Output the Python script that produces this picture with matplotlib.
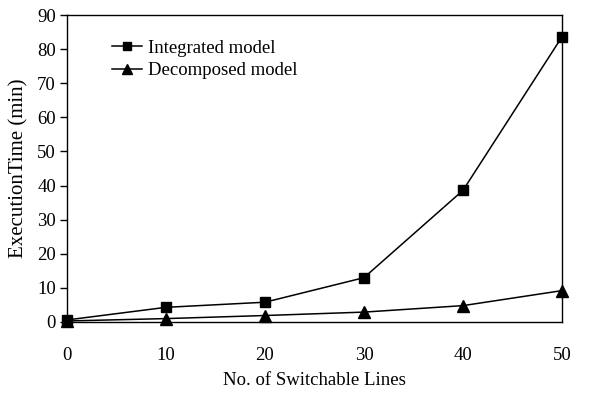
import matplotlib.pyplot as plt

plt.rcParams['font.family'] = ['Liberation Serif', 'DejaVu Serif']

# data
lines = [0, 10, 20, 30, 40, 50]
integrated = [0.6, 4.3, 5.8, 13.0, 38.6, 83.6]
decomposed = [0.3, 1.0, 1.9, 2.9, 4.8, 9.2]

fig = plt.figure(figsize=(6.08, 3.93), dpi=100)
ax = fig.add_axes([67 / 608, 1 - 322 / 393, (562 - 67) / 608, (322 - 15) / 393])

ax.plot(lines, integrated, color='black', lw=1.1, marker='s', ms=7,
        label='Integrated model', clip_on=False, zorder=3)
ax.plot(lines, decomposed, color='black', lw=1.1, marker='^', ms=8,
        label='Decomposed model', clip_on=False, zorder=3)

ax.set_xlim(0, 50)
ax.set_ylim(0, 90)
ax.set_xticks(range(0, 51, 10))
ax.set_yticks(range(0, 91, 10))
ax.tick_params(axis='both', direction='out', length=5, width=1, labelsize=13.5)
ax.tick_params(axis='x', length=0, pad=18)
ax.tick_params(axis='y', pad=3)
for s in ax.spines.values():
    s.set_linewidth(1.0)

ax.set_xlabel('No. of Switchable Lines', fontsize=13.5, labelpad=6)
ax.set_ylabel('ExecutionTime (min)', fontsize=15, labelpad=6)

ax.legend(loc='upper left', bbox_to_anchor=(0.075, 0.945), frameon=False,
          fontsize=13.5, handlelength=1.6, handletextpad=0.35, borderaxespad=0,
          labelspacing=0.3, markerscale=0.9)

fig.savefig('out.png', dpi=100)
